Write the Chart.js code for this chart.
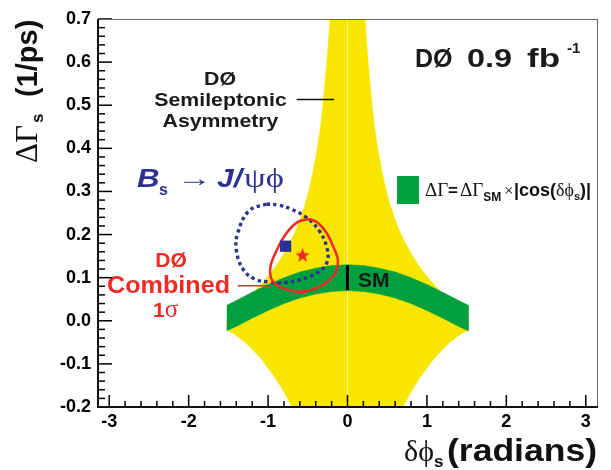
<!DOCTYPE html>
<html>
<head>
<meta charset="utf-8">
<script src="https://cdn.jsdelivr.net/npm/chart.js@4.4.1/dist/chart.umd.min.js"></script>
<style>
  html, body { margin: 0; padding: 0; background: #fff; }
  #box { width: 611px; height: 470px; }
</style>
</head>
<body>
<div id="box"><canvas id="dgChart" width="611" height="470"></canvas></div>
<script>
// tick labels
const xTicks = [-3, -2, -1, 0, 1, 2, 3];
const yTicks = [-0.2, -0.1, 0.0, 0.1, 0.2, 0.3, 0.4, 0.5, 0.6, 0.7];

// D0 semileptonic asymmetry band, right edge (left edge is the mirror image)
const slUpperG   = [0.70, 0.60, 0.50, 0.45, 0.40, 0.35, 0.30, 0.27, 0.24, 0.21, 0.18, 0.15, 0.13, 0.11, 0.09, 0.07, 0.05, 0.03, 0.00];
const slUpperPhi = [0.22, 0.26, 0.31, 0.34, 0.38, 0.43, 0.49, 0.535, 0.59, 0.65, 0.73, 0.82, 0.89, 0.97, 1.06, 1.16, 1.27, 1.39, 1.52];
const slLowerG   = [-0.022, -0.03, -0.05, -0.07, -0.09, -0.11, -0.13, -0.15, -0.175, -0.20];
const slLowerPhi = [1.52, 1.43, 1.29, 1.18, 1.08, 1.00, 0.92, 0.85, 0.77, 0.70];

// SM band  dG = dG_SM x |cos(dphi)|
const smPhi   = [-1.52, -1.4, -1.2, -1.0, -0.8, -0.6, -0.4, -0.2, 0.0, 0.2, 0.4, 0.6, 0.8, 1.0, 1.2, 1.4, 1.52];
const smUpper = [0.036, 0.047, 0.066, 0.084, 0.100, 0.113, 0.122, 0.128, 0.130, 0.128, 0.122, 0.113, 0.100, 0.084, 0.066, 0.047, 0.036];
const smLower = [-0.023, -0.013, 0.006, 0.024, 0.040, 0.053, 0.062, 0.068, 0.070, 0.068, 0.062, 0.053, 0.040, 0.024, 0.006, -0.013, -0.023];
const smMark  = [0.071, 0.129];

// Bs -> J/psi phi contour (dotted)
const jpsiPhi = [-1.02, -0.86, -0.71, -0.52, -0.36, -0.26, -0.26, -0.38, -0.62, -0.85, -1.00, -1.16, -1.31, -1.40, -1.38, -1.24, -1.02];
const jpsiG   = [0.271, 0.268, 0.259, 0.240, 0.210, 0.170, 0.135, 0.112, 0.094, 0.088, 0.090, 0.096, 0.118, 0.164, 0.205, 0.255, 0.271];
const jpsiBest = [-0.78, 0.173];

// D0 combined 1 sigma contour
const combPhi = [-0.475, -0.37, -0.26, -0.17, -0.12, -0.15, -0.24, -0.39, -0.60, -0.81, -0.95, -0.97, -0.89, -0.77, -0.62, -0.475];
const combG   = [0.236, 0.227, 0.203, 0.168, 0.140, 0.112, 0.093, 0.076, 0.067, 0.075, 0.095, 0.125, 0.164, 0.203, 0.230, 0.236];
const combBest = [-0.567, 0.1525];

// label pointer lines
const combPointer = { phi: [-1.38, -0.95], g: 0.081 };
const slPointer   = { phi: [-0.64, -0.17], g: 0.513 };

const SANS = '"Liberation Sans", Arial, Helvetica, sans-serif';
const SERIF = '"Liberation Serif", "DejaVu Serif", serif';
const YELLOW = '#f8e600';
const GREEN = '#00a03e';
const NAVY = '#2d3190';
const RED = '#ee2a24';

// build polygons
const slBand = [];
slUpperPhi.forEach((p, i) => slBand.push({ x: p, y: slUpperG[i] }));
slLowerPhi.forEach((p, i) => slBand.push({ x: p, y: slLowerG[i] }));
for (let i = slLowerPhi.length - 1; i >= 0; i--) slBand.push({ x: -slLowerPhi[i], y: slLowerG[i] });
for (let i = slUpperPhi.length - 1; i >= 0; i--) slBand.push({ x: -slUpperPhi[i], y: slUpperG[i] });

const smBand = [];
smPhi.forEach((p, i) => smBand.push({ x: p, y: smUpper[i] }));
for (let i = smPhi.length - 1; i >= 0; i--) smBand.push({ x: smPhi[i], y: smLower[i] });

function starImage(size, color) {
  const c = document.createElement('canvas');
  c.width = c.height = size;
  const g = c.getContext('2d');
  const R = size / 2, r = R * 0.42;
  g.beginPath();
  for (let i = 0; i < 10; i++) {
    const a = -Math.PI / 2 + i * Math.PI / 5;
    const rad = i % 2 ? r : R;
    g.lineTo(R + rad * Math.cos(a), R + 0.6 + rad * Math.sin(a));
  }
  g.closePath();
  g.fillStyle = color;
  g.fill();
  return c;
}

// draw a row of text pieces, each with its own font, offset and horizontal stretch
function runs(ctx, x, y, parts) {
  let cx = x;
  parts.forEach(p => {
    if (p.x !== undefined) cx = p.x;
    const sx = p.sx || 1;
    ctx.font = p.font;
    ctx.save();
    ctx.translate(cx, y + (p.dy || 0));
    ctx.scale(sx, 1);
    ctx.fillText(p.t, 0, 0);
    ctx.restore();
    cx += ctx.measureText(p.t).width * sx;
  });
}

function centered(ctx, t, font, cx, y, sx) {
  ctx.font = font;
  const w = ctx.measureText(t).width * sx;
  runs(ctx, cx - w / 2, y, [{ t: t, font: font, sx: sx }]);
}

// frame and tick marks, drawn as filled rectangles
const frame = {
  id: 'frame',
  afterDraw(chart) {
    const { ctx, chartArea, scales } = chart;
    const x = scales.x, y = scales.y;
    const L = chartArea.left, R = chartArea.right, T = chartArea.top, B = chartArea.bottom;
    ctx.save();
    ctx.fillStyle = '#000';
    for (let i = 0; i <= 45; i++) {
      const py = y.getPixelForValue(-0.2 + i * 0.02);
      const len = i % 5 === 0 ? 14 : 7;
      ctx.fillRect(L, py - 0.75, len, 1.5);
    }
    for (let i = 0; i <= 30; i++) {
      const px = x.getPixelForValue(-3 + i * 0.2);
      const len = i % 5 === 0 ? 12 : 6;
      ctx.fillRect(px - 0.75, B - len, 1.5, len);
    }
    ctx.fillStyle = '#666';
    ctx.fillRect(L, T, R - L, 1);
    ctx.fillRect(R, T, 1, B - T);
    ctx.fillStyle = '#111';
    ctx.fillRect(L - 1, T, 2, B - T + 1);
    ctx.fillRect(L - 1, B - 1, R - L + 2, 2);
    ctx.restore();
  }
};

const labels = {
  id: 'labels',
  afterDatasetsDraw(chart) {
    const ctx = chart.ctx;
    ctx.save();
    ctx.textBaseline = 'alphabetic';
    ctx.textAlign = 'left';

    // D0 0.9 fb-1
    ctx.fillStyle = '#1a1a1a';
    runs(ctx, 415, 67, [
      { t: 'DØ', font: 'bold 25px ' + SANS },
      { t: '0.9', font: 'bold 25px ' + SANS, x: 467, sx: 1.3 },
      { t: 'fb', font: 'bold 25px ' + SANS, x: 527, sx: 1.4 },
      { t: '-1', font: 'bold 15px ' + SANS, x: 567, dy: -14 }
    ]);

    // semileptonic label
    centered(ctx, 'DØ', 'bold 19px ' + SANS, 220, 85, 1.12);
    centered(ctx, 'Semileptonic', 'bold 19px ' + SANS, 220.5, 106, 1.12);
    centered(ctx, 'Asymmetry', 'bold 19px ' + SANS, 220.5, 127, 1.12);

    // SM
    runs(ctx, 358, 287, [{ t: 'SM', font: 'bold 21px ' + SANS }]);

    // Bs -> J/psi phi
    ctx.fillStyle = NAVY;
    runs(ctx, 137, 187, [
      { t: 'B', font: 'italic bold 26px ' + SANS, sx: 1.2 },
      { t: 's', font: 'bold 16px ' + SANS, dy: 8, x: 159 },
      { t: '\u2192', font: '24px ' + SERIF, x: 177, dy: -1, sx: 1.45 },
      { t: 'J/', font: 'italic bold 26px ' + SANS, x: 217, sx: 1.15 },
      { t: '\u03c8\u03d5', font: '27px ' + SERIF, x: 244, sx: 1.28 }
    ]);

    // red label
    ctx.fillStyle = RED;
    centered(ctx, 'DØ', 'bold 21px ' + SANS, 171, 267, 1);
    centered(ctx, 'Combined', 'bold 23px ' + SANS, 168.5, 293, 1.094);
    runs(ctx, 153, 317, [
      { t: '1', font: 'bold 21px ' + SANS },
      { t: '\u03c3', font: '25px ' + SERIF }
    ]);

    // SM band legend
    ctx.fillStyle = GREEN;
    ctx.fillRect(397, 176, 22, 28);
    ctx.fillStyle = '#111';
    runs(ctx, 425, 196, [
      { t: '\u0394\u0393', font: '19px ' + SERIF },
      { t: '=', font: 'bold 17px ' + SANS, x: 448 },
      { t: '\u0394\u0393', font: '19px ' + SERIF, x: 460 },
      { t: 'SM', font: 'bold 12px ' + SANS, dy: 5 },
      { t: '\u00d7', font: '17px ' + SERIF, x: 504 },
      { t: '|cos(', font: 'bold 18px ' + SANS, x: 514 },
      { t: '\u03b4\u03d5', font: '18px ' + SERIF },
      { t: 's', font: 'bold 11px ' + SANS, dy: 4 },
      { t: ')|', font: 'bold 18px ' + SANS }
    ]);

    // x axis title
    runs(ctx, 404, 461, [
      { t: '\u03b4\u03d5', font: '30px ' + SERIF },
      { t: 's', font: 'bold 17px ' + SANS, dy: 6 },
      { t: '(radians)', font: 'bold 32px ' + SANS, x: 447, sx: 1.11 }
    ]);

    // y axis title
    ctx.translate(37, 163);
    ctx.rotate(-Math.PI / 2);
    runs(ctx, 0, 0, [
      { t: '\u0394\u0393', font: '31px ' + SERIF },
      { t: 's', font: 'bold 17px ' + SANS, dy: 6, x: 40 },
      { t: '(1/ps)', font: 'bold 29px ' + SANS, x: 66 }
    ]);

    ctx.restore();
  }
};

const pts = (xs, ys) => xs.map((v, i) => ({ x: v, y: ys[i] }));

new Chart(document.getElementById('dgChart'), {
  type: 'line',
  data: {
    datasets: [
      {
        data: slBand, order: 9, fill: 'shape',
        backgroundColor: YELLOW, borderColor: YELLOW, borderWidth: 0.5,
        pointRadius: 0, tension: 0
      },
      {
        data: [{ x: 0, y: -0.2 }, { x: 0, y: 0.7 }], order: 8,
        borderColor: 'rgba(255,255,255,0.55)', borderWidth: 1, pointRadius: 0
      },
      {
        data: smBand, order: 7, fill: 'shape',
        backgroundColor: GREEN, borderColor: GREEN, borderWidth: 0.5,
        pointRadius: 0, tension: 0
      },
      {
        data: [{ x: 0, y: smMark[0] }, { x: 0, y: smMark[1] }], order: 6,
        borderColor: '#000', borderWidth: 3, pointRadius: 0
      },
      {
        data: pts(jpsiPhi, jpsiG), order: 5,
        borderColor: NAVY, borderWidth: 3.4, borderDash: [3.4, 3.3], borderCapStyle: 'butt',
        pointRadius: 0, tension: 0.4, fill: false
      },
      {
        data: pts(combPhi, combG), order: 4,
        borderColor: RED, borderWidth: 2.5, pointRadius: 0, tension: 0.4, fill: false
      },
      {
        data: [{ x: jpsiBest[0], y: jpsiBest[1] }], order: 3, showLine: false,
        pointStyle: 'rect', pointRadius: 8, backgroundColor: NAVY, borderColor: NAVY, borderWidth: 0
      },
      {
        data: [{ x: combBest[0], y: combBest[1] }], order: 2, showLine: false,
        pointStyle: starImage(15, RED), pointRadius: 8
      },
      {
        data: pts(combPointer.phi, [combPointer.g, combPointer.g]), order: 1,
        borderColor: RED, borderWidth: 1.5, pointRadius: 0
      },
      {
        data: pts(slPointer.phi, [slPointer.g, slPointer.g]), order: 1,
        borderColor: '#111', borderWidth: 1.5, pointRadius: 0
      }
    ]
  },
  options: {
    responsive: false,
    animation: false,
    devicePixelRatio: 1,
    events: [],
    layout: { padding: { top: 19, right: 14, left: 0, bottom: 0 } },
    plugins: { legend: { display: false }, tooltip: { enabled: false } },
    scales: {
      x: {
        type: 'linear', min: -Math.PI, max: Math.PI,
        afterBuildTicks: s => { s.ticks = xTicks.map(v => ({ value: v })); },
        afterFit: s => { s.height = 63; },
        grid: { display: false, drawTicks: false },
        border: { display: false },
        ticks: {
          color: '#000', padding: 4, maxRotation: 0, autoSkip: false,
          font: { family: SANS, size: 18, weight: 'bold' },
          callback: v => String(v)
        }
      },
      y: {
        type: 'linear', min: -0.2, max: 0.7,
        afterBuildTicks: s => { s.ticks = yTicks.map(v => ({ value: v })); },
        afterFit: s => { s.width = 98; },
        grid: { display: false, drawTicks: false },
        border: { display: false },
        ticks: {
          color: '#000', padding: 7, autoSkip: false,
          font: { family: SANS, size: 18, weight: 'bold' },
          callback: v => v.toFixed(1)
        }
      }
    }
  },
  plugins: [labels, frame]
});
</script>
</body>
</html>
